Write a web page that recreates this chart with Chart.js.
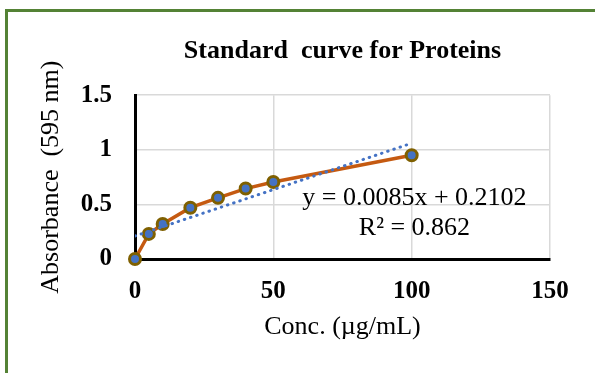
<!DOCTYPE html>
<html>
<head>
<meta charset="utf-8">
<script src="https://cdn.jsdelivr.net/npm/chart.js@4"></script>
<style>
    html, body { margin: 0; padding: 0; background: #fff; overflow: hidden; }
    .frame {
        position: absolute; left: 5px; top: 9px;
        width: 700px; height: 500px;
        border: 3px solid #548235;
    }
    #wrap { position: absolute; left: 0; top: 0; width: 595px; height: 373px; }
</style>
</head>
<body>
<div class="frame"></div>
<div id="wrap"><canvas id="std-curve"></canvas></div>
<script>
// Protein standard curve: concentration vs absorbance
const conc = [0, 5, 10, 20, 30, 40, 50, 100];
const absorbance = [0, 0.23, 0.32, 0.47, 0.56, 0.645, 0.705, 0.95];

// Linear fit reported on the chart
const slope = 0.0085;
const intercept = 0.2102;
const rSquared = 0.862;
const fitRange = [0, 100];

const xTicks = [0, 50, 100, 150];
const yTicks = [0, 0.5, 1, 1.5];

const serif = "'Liberation Serif', 'Times New Roman', serif";

// Writes the fit equation and R² next to the trendline
const equationLabel = {
    id: 'equationLabel',
    afterDatasetsDraw(chart) {
        const { ctx, scales } = chart;
        const x = scales.x.getPixelForValue(101);
        const y = scales.y.getPixelForValue(0.56);
        ctx.save();
        ctx.font = `26px ${serif}`;
        ctx.fillStyle = '#000';
        ctx.textAlign = 'center';
        ctx.textBaseline = 'middle';
        ctx.fillText(`y = ${slope}x + ${intercept}`, x, y);
        ctx.fillText(`R\u00B2 = ${rSquared}`, x, y + 30);
        ctx.restore();
    },
};

const axisCommon = {
    type: 'linear',
    grid: { color: '#d9d9d9', lineWidth: 1.5, drawTicks: false },
    border: { color: '#000', width: 3 },
};

new Chart(document.getElementById('std-curve').getContext('2d'), {
    type: 'scatter',
    data: {
        datasets: [
            {
                label: 'Absorbance',
                data: conc.map((c, i) => ({ x: c, y: absorbance[i] })),
                showLine: true,
                clip: false,
                borderColor: '#c55a11',
                borderWidth: 3.5,
                pointRadius: 5.5,
                pointBackgroundColor: '#4472c4',
                pointBorderColor: '#7f6000',
                pointBorderWidth: 3,
                order: 2,
            },
            {
                label: 'Linear fit',
                data: fitRange.map(x => ({ x, y: slope * x + intercept })),
                showLine: true,
                borderColor: '#4472c4',
                borderWidth: 3,
                borderDash: [0.5, 6],
                borderCapStyle: 'round',
                pointRadius: 0,
                order: 1,
            },
        ],
    },
    options: {
        responsive: true,
        maintainAspectRatio: false,
        animation: false,
        layout: { padding: { left: 0, right: 45, top: 0, bottom: 0 } },
        plugins: {
            legend: { display: false },
            tooltip: { enabled: false },
            title: {
                display: true,
                fullSize: false,
                text: 'Standard  curve for Proteins',
                color: '#000',
                font: { family: serif, size: 26, weight: 'bold' },
                padding: { top: 36, bottom: 28 },
            },
        },
        scales: {
            x: {
                ...axisCommon,
                min: 0,
                max: 150,
                afterBuildTicks: (axis) => { axis.ticks = xTicks.map(v => ({ value: v })); },
                afterFit: (scale) => { scale.height = 114; },
                ticks: {
                    color: '#000',
                    padding: 18,
                    font: { family: serif, size: 25, weight: 'bold' },
                    callback: (v) => String(v),
                },
                title: {
                    display: true,
                    text: 'Conc. (\u00B5g/mL)',
                    color: '#000',
                    font: { family: serif, size: 26 },
                    padding: { top: 0, bottom: 30 },
                },
            },
            y: {
                ...axisCommon,
                min: 0,
                max: 1.5,
                afterBuildTicks: (axis) => { axis.ticks = yTicks.map(v => ({ value: v })); },
                afterFit: (scale) => { scale.width = 135; },
                ticks: {
                    color: '#000',
                    padding: 23,
                    font: { family: serif, size: 25, weight: 'bold' },
                    callback: (v) => String(v),
                },
                title: {
                    display: true,
                    text: 'Absorbance  (595 nm)',
                    color: '#000',
                    font: { family: serif, size: 26 },
                    padding: { top: 36, bottom: 0 },
                },
            },
        },
    },
    plugins: [equationLabel],
});
</script>
</body>
</html>
